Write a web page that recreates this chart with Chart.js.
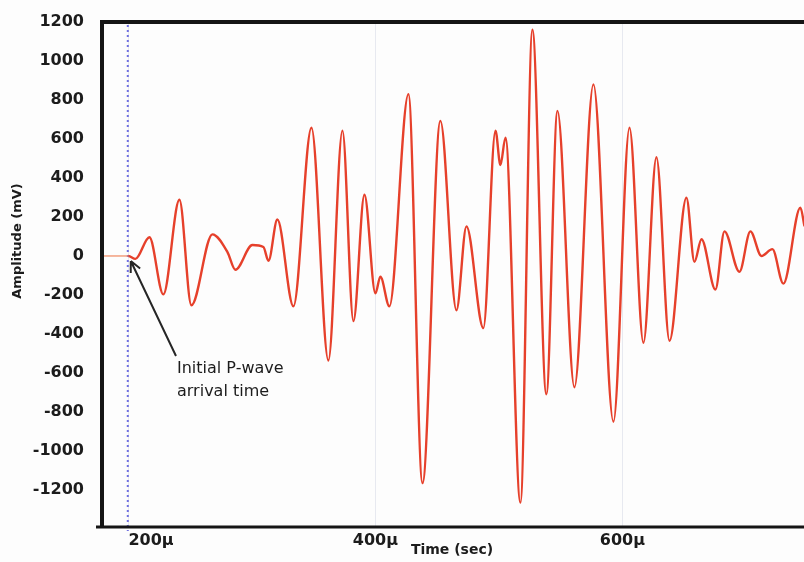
<!DOCTYPE html>
<html>
<head>
<meta charset="utf-8">
<script src="https://cdn.jsdelivr.net/npm/chart.js@4.4.1/dist/chart.umd.min.js"></script>
<style>
  html, body { margin: 0; padding: 0; background: #fdfdfd; }
  #wrap { width: 804px; height: 562px; }
</style>
</head>
<body>
<div id="wrap"><canvas id="myChart" width="804" height="562"></canvas></div>
<script>
// Datos (tiempo en microsegundos, amplitud en mV)
const timeUs = [177.3, 200.0, 205.7, 217.0, 228.3, 241.3, 251.0, 268.0, 280.2, 286.6,
  300.4, 309.3, 313.4, 320.6, 333.6, 348.2, 361.9, 373.3, 382.2, 391.1,
  400.0, 404.0, 411.3, 426.7, 438.1, 452.6, 465.6, 473.7, 487.4, 497.2,
  501.2, 505.3, 517.4, 527.1, 538.4, 547.4, 561.1, 576.5, 592.7, 605.7,
  617.0, 627.5, 638.1, 651.8, 658.3, 664.0, 675.3, 682.6, 694.7, 703.6,
  712.5, 721.4, 730.3, 744.1, 747.4];
const amplitude = [0, 0, -15, 96, -197, 288, -253, 111, 20, -71,
  56, 46, -25, 187, -258, 658, -536, 643, -334, 314,
  -192, -106, -258, 830, -1165, 693, -278, 152, -370, 643,
  466, 607, -1265, 1160, -709, 744, -673, 880, -850, 658,
  -445, 506, -435, 299, -30, 86, -172, 126, -81, 126,
  0, 35, -142, 248, 152];

const xTickValues = [200, 400, 600, 800];
const xTickLabels = ['200µ', '400µ', '600µ', ''];
const yTickValues = [-1200, -1000, -800, -600, -400, -200, 0, 200, 400, 600, 800, 1000, 1200];
const arrivalTime = 199.5;
const arrivalText = ['Initial P-wave', 'arrival time'];

const tickFont = { family: 'DejaVu Sans', weight: 'bold', size: 16 };
const ink = '#1c1c1c';

// Linea punteada, flecha, texto y marco
const annotations = {
  id: 'annotations',
  beforeDatasetsDraw(chart) {
    const c = chart.ctx;
    const xp = chart.scales.x.getPixelForValue(arrivalTime);
    c.save();
    c.strokeStyle = '#6f6fe0';
    c.lineWidth = 2;
    c.setLineDash([2, 3]);
    c.beginPath();
    c.moveTo(xp, 20);
    c.lineTo(xp, 531);
    c.stroke();
    c.restore();
  },
  afterDatasetsDraw(chart) {
    const c = chart.ctx;
    const xs = chart.scales.x, ys = chart.scales.y;
    const tipX = xs.getPixelForValue(arrivalTime) + 3;
    const tipY = ys.getPixelForValue(0) + 5;
    const tailX = 176, tailY = 356;
    c.save();
    c.strokeStyle = '#262626';
    c.lineWidth = 2;
    c.beginPath();
    c.moveTo(tailX, tailY);
    c.lineTo(tipX, tipY);
    const ang = Math.atan2(tipY - tailY, tipX - tailX);
    c.moveTo(tipX, tipY);
    c.lineTo(tipX - 12 * Math.cos(ang - 0.45), tipY - 12 * Math.sin(ang - 0.45));
    c.moveTo(tipX, tipY);
    c.lineTo(tipX - 12 * Math.cos(ang + 0.45), tipY - 12 * Math.sin(ang + 0.45));
    c.stroke();

    c.fillStyle = ink;
    c.font = '16px "DejaVu Sans"';
    c.textAlign = 'left';
    c.textBaseline = 'middle';
    c.fillText(arrivalText[0], 177, 369);
    c.fillText(arrivalText[1], 177, 392);

    // titulo del eje Y
    c.translate(18, 241);
    c.rotate(-Math.PI / 2);
    c.textAlign = 'center';
    c.font = 'bold 13px "DejaVu Sans"';
    c.fillText('Amplitude (mV)', 0, 0);
    c.restore();
  },
  afterDraw(chart) {
    const c = chart.ctx;
    const a = chart.chartArea;
    c.save();
    c.strokeStyle = '#151515';
    c.lineWidth = 4;
    c.beginPath();
    c.moveTo(a.left + 2, a.top);
    c.lineTo(chart.width, a.top);
    c.moveTo(a.left + 2, a.top - 2);
    c.lineTo(a.left + 2, a.bottom + 1);
    c.stroke();
    c.lineWidth = 3;
    c.beginPath();
    c.moveTo(a.left - 4, a.bottom);
    c.lineTo(chart.width, a.bottom);
    c.stroke();
    c.restore();
  }
};

const ctx = document.getElementById('myChart').getContext('2d');

const myChart = new Chart(ctx, {
  type: 'line',
  data: {
    datasets: [{
      label: 'Amplitude',
      data: timeUs.map((t, i) => ({ x: t, y: amplitude[i] })),
      borderColor: '#e6402b',
      borderWidth: 2.4,
      pointRadius: 0,
      cubicInterpolationMode: 'monotone',
      fill: false,
      segment: {
        borderColor: s => s.p1.parsed.x <= 200 ? '#f0875e' : undefined,
        borderWidth: s => s.p1.parsed.x <= 200 ? 1.2 : undefined
      }
    }]
  },
  options: {
    responsive: false,
    animation: false,
    layout: { padding: { top: 22, left: 0, right: 0, bottom: 0 } },
    plugins: {
      legend: { display: false },
      tooltip: { enabled: false }
    },
    scales: {
      x: {
        type: 'linear',
        min: 177,
        max: 747,
        afterBuildTicks: scale => { scale.ticks = xTickValues.map(v => ({ value: v })); },
        afterFit: scale => {
          scale.height = 35;
          scale.paddingLeft = 0;
          scale.paddingRight = 0;
        },
        grid: { color: 'rgba(190,195,215,0.35)', drawTicks: false },
        border: { display: false },
        ticks: {
          autoSkip: false,
          maxRotation: 0,
          align: 'inner',
          padding: 4,
          color: ink,
          font: tickFont,
          callback: (v, i) => xTickLabels[i]
        },
        title: {
          display: true,
          text: 'Time (sec)',
          color: ink,
          font: { family: 'DejaVu Sans', weight: 'bold', size: 14 },
          padding: { top: 0, bottom: 3 }
        }
      },
      y: {
        min: -1390,
        max: 1200,
        afterBuildTicks: scale => { scale.ticks = yTickValues.map(v => ({ value: v })); },
        afterFit: scale => {
          scale.width = 100;
          scale.paddingTop = 0;
          scale.paddingBottom = 0;
        },
        grid: { display: false, drawTicks: false },
        border: { display: false },
        ticks: {
          padding: 16,
          color: ink,
          font: tickFont,
          callback: v => String(v)
        }
      }
    }
  },
  plugins: [annotations]
});
</script>
</body>
</html>
